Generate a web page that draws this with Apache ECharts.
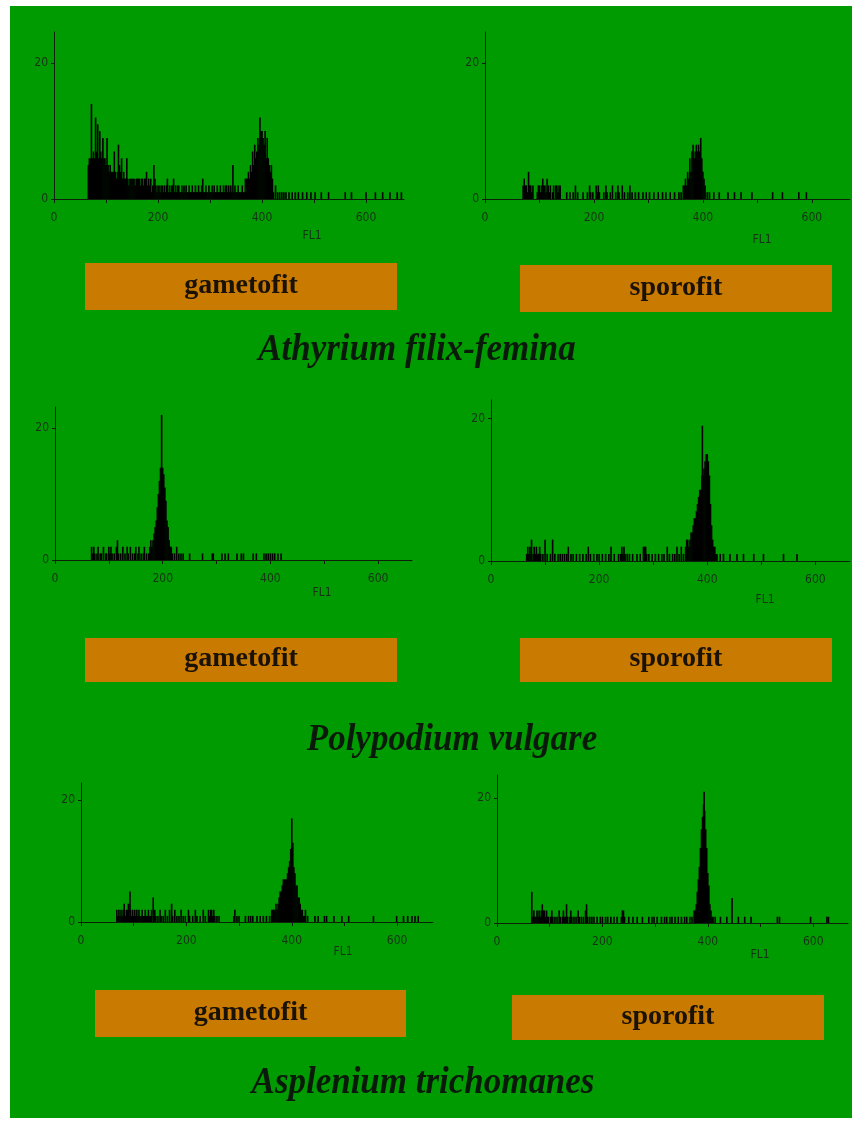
<!DOCTYPE html>
<html>
<head>
<meta charset="utf-8">
<style>
  html, body { margin: 0; padding: 0; background: #fff; }
  #chart { width: 859px; height: 1124px; }
</style>
<script src="https://cdn.jsdelivr.net/npm/echarts@6.0.0/dist/echarts.min.js"></script>
</head>
<body>
<div id="chart"></div>
<script>
// tick labels / names
var xTicks = [0, 200, 400, 600];
var xMinorTicks = [0, 100, 200, 300, 400, 500, 600];
var yTicks = [0, 20];
var stageNames = ['gametofit', 'sporofit'];
var speciesNames = ['Athyrium filix-femina', 'Polypodium vulgare', 'Asplenium trichomanes'];
var axisName = 'FL1';

// histograms: [FL1 channel, count]
var athyriumGameto = [
  [66,5],[68,6],[70,6],[72,14],[74,6],[76,7],[78,6],[80,12],[82,7],[84,11],[86,6],[88,10],[90,7],[92,6],[94,9],
  [96,6],[98,6],[100,5],[102,9],[104,5],[106,4],[108,5],[110,4],[112,4],[114,4],[116,7],[118,4],[120,3],[122,4],
  [124,8],[126,5],[128,4],[130,6],[132,3],[134,4],[136,3],[138,3],[140,6],[142,3],[144,2],[146,3],[148,3],[150,3],
  [152,3],[154,3],[156,2],[158,3],[160,3],[162,3],[164,3],[166,2],[168,3],[170,3],[172,2],[174,3],[176,3],[178,4],
  [180,2],[182,3],[184,2],[186,3],[188,1],[190,2],[192,5],[194,3],[196,2],[198,1],[200,2],[202,2],[204,1],[206,2],
  [208,2],[210,1],[212,2],[214,1],[216,2],[218,3],[220,1],[222,2],[224,1],[226,2],[228,2],[230,3],[232,1],[234,2],
  [236,1],[238,2],[240,2],[242,1],[244,1],[246,2],[248,1],[250,2],[252,1],[254,2],[256,1],[258,1],[260,2],[262,1],
  [264,1],[266,2],[268,1],[270,1],[272,2],[274,1],[276,1],[278,2],[280,1],[282,1],[284,2],[286,3],[288,1],[290,1],
  [292,2],[294,1],[296,1],[298,2],[300,1],[302,1],[304,2],[306,1],[308,2],[310,1],[312,1],[314,2],[316,1],[318,1],
  [320,2],[322,1],[324,1],[326,2],[328,1],[330,2],[332,2],[334,1],[336,2],[338,1],[340,2],[342,1],[344,5],[346,1],
  [348,2],[350,1],[352,1],[354,2],[356,1],[358,1],[360,1],[362,2],[364,1],[366,1],[368,3],[370,3],[372,3],[374,4],
  [376,3],[378,5],[380,4],[382,7],[384,5],[386,8],[388,6],[390,7],[392,9],[394,8],[396,12],[398,10],[400,10],
  [402,9],[404,8],[406,10],[408,6],[410,9],[412,6],[414,5],[416,4],[418,5],[420,3],[422,1],[426,2],[430,1],[434,1],
  [438,1],[442,1],[446,1],[452,1],[458,1],[464,1],[470,1],[478,1],[486,1],[494,1],[502,1],[514,1],[528,1],[560,1],
  [572,1],[600,1],[618,1],[632,1],[646,1],[660,1],[668,1]
];
var athyriumSporo = [
  [70,2],[72,3],[74,2],[76,2],[78,1],[80,4],[82,2],[84,2],[86,1],[88,2],[96,1],[98,2],[100,2],[102,1],[104,2],
  [106,3],[108,2],[110,2],[112,1],[114,3],[116,2],[118,1],[120,2],[124,1],[126,2],[130,2],[132,2],[134,1],[136,2],
  [138,2],[150,1],[156,1],[162,1],[166,2],[170,1],[180,1],[188,1],[192,2],[194,1],[198,1],[204,2],[206,1],[208,2],
  [210,1],[218,1],[222,2],[224,1],[230,1],[234,2],[240,1],[244,2],[246,1],[252,2],[256,1],[262,1],[266,2],[270,1],
  [276,1],[282,1],[290,1],[296,1],[302,1],[310,1],[318,1],[326,1],[332,1],[340,1],[348,1],[356,1],[360,1],[364,2],
  [366,2],[368,3],[370,2],[372,4],[374,3],[376,6],[378,4],[380,7],[382,8],[384,6],[386,7],[388,8],[390,7],[392,8],
  [394,7],[396,9],[398,6],[400,4],[402,3],[404,2],[408,1],[412,1],[420,1],[430,1],[446,1],[458,1],[470,1],[490,1],
  [528,1],[546,1],[576,1],[590,1]
];
var polypodiumGameto = [
  [68,2],[70,1],[72,2],[74,1],[78,1],[80,2],[84,1],[86,1],[90,2],[94,1],[96,1],[100,2],[102,1],[104,2],[106,1],
  [110,1],[114,2],[116,3],[118,1],[122,1],[126,2],[130,1],[134,2],[136,1],[140,2],[144,1],[148,1],[150,2],[154,1],
  [156,2],[160,1],[164,1],[166,2],[170,1],[174,1],[176,2],[178,3],[180,2],[182,3],[184,4],[186,5],[188,6],[190,8],
  [192,10],[194,12],[196,14],[198,22],[200,14],[202,13],[204,11],[206,9],[208,6],[210,5],[212,3],[214,2],[216,2],
  [218,1],[222,1],[226,2],[230,1],[234,1],[238,1],[250,1],[274,1],[292,1],[294,1],[310,1],[316,1],[322,1],[338,1],
  [346,1],[350,1],[368,1],[374,1],[388,1],[392,1],[396,1],[400,1],[404,1],[408,1],[414,1],[420,1]
];
var polypodiumSporo = [
  [66,1],[68,2],[70,1],[72,2],[74,1],[75,3],[78,1],[80,2],[82,1],[84,2],[86,1],[88,1],[90,2],[92,1],[96,1],[100,3],
  [104,1],[110,1],[114,3],[118,1],[124,1],[128,1],[132,1],[136,1],[140,1],[143,2],[148,1],[152,1],[158,1],[164,1],
  [170,1],[176,1],[180,2],[184,1],[190,1],[196,1],[200,1],[206,1],[212,1],[218,1],[222,2],[228,1],[236,1],[240,1],
  [242,2],[244,1],[246,2],[248,1],[252,1],[256,1],[262,1],[270,1],[276,1],[282,2],[284,2],[286,2],[288,1],[292,1],
  [298,1],[304,1],[310,1],[316,1],[320,1],[326,2],[330,1],[336,1],[340,1],[344,2],[348,1],[352,2],[356,1],[360,2],
  [362,3],[364,3],[366,2],[368,3],[370,4],[372,4],[374,5],[376,6],[378,6],[380,7],[382,8],[384,9],[386,10],[388,10],
  [390,12],[391,19],[392,12],[394,13],[396,14],[398,15],[400,15],[402,14],[404,12],[406,8],[408,5],[410,3],[412,2],
  [414,2],[416,1],[418,1],[424,1],[430,1],[442,1],[455,1],[467,1],[486,1],[504,1],[541,1],[566,1]
];
var aspleniumGameto = [
  [68,2],[70,1],[72,2],[74,1],[76,2],[78,1],[80,2],[82,3],[84,1],[86,2],[88,2],[90,3],[92,1],[93,5],[94,2],[96,1],
  [98,2],[100,1],[102,2],[104,1],[106,2],[108,1],[110,2],[112,1],[114,1],[116,2],[118,1],[120,1],[122,2],[124,1],
  [126,1],[128,2],[130,1],[132,1],[134,2],[137,4],[138,1],[140,2],[142,1],[146,1],[150,2],[152,1],[156,1],[160,2],
  [164,1],[168,2],[172,3],[174,1],[178,2],[182,1],[186,1],[190,2],[194,1],[198,1],[204,2],[206,1],[212,1],[217,2],
  [220,1],[226,1],[232,2],[236,1],[242,2],[244,1],[246,2],[248,2],[250,1],[252,2],[254,1],[258,1],[262,1],[290,1],
  [292,2],[296,1],[300,1],[312,1],[318,1],[322,1],[326,1],[334,1],[340,1],[346,1],[352,1],[358,1],[362,2],[364,2],
  [366,2],[368,2],[370,3],[372,2],[374,3],[376,4],[378,5],[380,5],[382,6],[384,7],[386,7],[388,7],[390,7],[392,8],
  [394,9],[396,10],[398,12],[400,17],[402,13],[404,9],[406,8],[408,6],[410,6],[412,4],[414,4],[416,3],[418,2],
  [420,2],[422,1],[424,1],[426,2],[430,1],[444,1],[450,1],[462,1],[466,1],[480,1],[495,1],[508,1],[555,1],[599,1],
  [612,1],[620,1],[628,1],[634,1],[640,1]
];
var aspleniumSporo = [
  [66,5],[68,1],[70,2],[72,1],[74,1],[76,2],[78,1],[80,2],[82,1],[84,2],[86,3],[88,2],[90,2],[92,1],[94,2],[96,1],
  [98,1],[102,1],[104,2],[106,1],[110,1],[114,1],[118,2],[120,1],[124,1],[126,2],[128,1],[130,1],[132,3],[134,1],
  [138,1],[140,2],[142,1],[146,1],[150,1],[154,2],[156,1],[160,1],[164,1],[168,2],[170,3],[172,1],[176,1],[180,1],
  [184,1],[190,1],[196,1],[200,1],[206,1],[210,1],[216,1],[222,1],[228,1],[236,1],[238,2],[240,2],[242,1],[250,1],
  [258,1],[266,1],[276,1],[288,1],[294,1],[298,1],[304,1],[312,1],[318,1],[322,1],[328,1],[332,1],[338,1],[344,1],
  [350,1],[356,1],[360,1],[366,1],[370,1],[374,2],[376,2],[378,3],[380,5],[382,7],[384,9],[386,12],[388,15],
  [390,17],[392,19],[393,21],[394,18],[396,15],[398,12],[400,8],[402,6],[404,3],[406,2],[408,1],[410,1],[414,1],
  [424,1],[436,1],[446,4],[458,1],[470,1],[482,1],[532,1],[536,1],[595,1],[626,1],[629,1]
];

var histograms = [athyriumGameto, athyriumSporo, polypodiumGameto, polypodiumSporo, aspleniumGameto, aspleniumSporo];

// panel layout (pixels) and axis extents
var panels = [
  {left: 54, top: 32, width: 350, height: 167, xMax: 673, yMax: 24.6, fl: [312, 236]},
  {left: 485, top: 32, width: 365, height: 167, xMax: 670, yMax: 24.6, fl: [762, 240]},
  {left: 55, top: 407, width: 357, height: 153, xMax: 663, yMax: 23.2, fl: [322, 593]},
  {left: 491, top: 400, width: 359, height: 161, xMax: 664, yMax: 22.6, fl: [765, 600]},
  {left: 81, top: 783, width: 352, height: 139, xMax: 668, yMax: 22.8, fl: [343, 952]},
  {left: 497, top: 775, width: 351, height: 148, xMax: 666, yMax: 23.7, fl: [760, 955]}
];
var boxes = [
  [85, 263, 312, 47], [520, 265, 312, 47],
  [85, 638, 312, 44], [520, 638, 312, 44],
  [95, 990, 311, 47], [512, 995, 312, 45]
];
var titlePos = [[417, 350], [452, 740], [423, 1083]];

var axisColor = '#0c200c';
var labelColor = '#173317';
var labelFont = '"Liberation Sans Narrow", "DejaVu Sans Condensed", "Liberation Sans", sans-serif';

var grid = [], xAxis = [], yAxis = [], series = [];
var graphic = [{
  type: 'rect', z: -100, silent: true,
  shape: {x: 10, y: 6, width: 842, height: 1112},
  style: {fill: '#009b00'}
}];

panels.forEach(function (p, i) {
  grid.push({left: p.left, top: p.top, width: p.width, height: p.height});
  xAxis.push({
    type: 'value', gridIndex: i, min: 0, max: p.xMax,
    splitLine: {show: false},
    axisLine: {lineStyle: {color: axisColor, width: 1}},
    axisTick: {customValues: xMinorTicks, length: 4, lineStyle: {color: axisColor}},
    axisLabel: {customValues: xTicks, margin: 13, color: labelColor, fontSize: 12, fontFamily: labelFont}
  });
  yAxis.push({
    type: 'value', gridIndex: i, min: 0, max: p.yMax,
    splitLine: {show: false},
    axisLine: {show: true, lineStyle: {color: axisColor, width: 1}},
    axisTick: {show: true, customValues: yTicks, length: 3, lineStyle: {color: axisColor}},
    axisLabel: {customValues: yTicks, margin: 6, color: labelColor, fontSize: 12, fontFamily: labelFont}
  });
  series.push({
    type: 'bar', xAxisIndex: i, yAxisIndex: i,
    barWidth: 1.6,
    itemStyle: {color: '#000'},
    data: histograms[i]
  });
  graphic.push({
    type: 'text', x: p.fl[0], y: p.fl[1],
    style: {text: axisName, fill: labelColor, font: '12px ' + labelFont,
            textAlign: 'center', textVerticalAlign: 'middle', align: 'center', verticalAlign: 'middle'}
  });
});

boxes.forEach(function (b, i) {
  graphic.push({
    type: 'rect', shape: {x: b[0], y: b[1], width: b[2], height: b[3]},
    style: {fill: '#c97a00'}
  });
  graphic.push({
    type: 'text', x: b[0] + b[2] / 2, y: b[1] + b[3] / 2 - 1,
    style: {text: stageNames[i % 2], fill: '#1a1206', font: 'bold 28px "Liberation Serif", serif',
            textAlign: 'center', textVerticalAlign: 'middle', align: 'center', verticalAlign: 'middle'}
  });
});

speciesNames.forEach(function (name, i) {
  graphic.push({
    type: 'text', x: titlePos[i][0], y: titlePos[i][1], scaleX: 0.92,
    style: {text: name, fill: '#0a1a0a', font: 'italic bold 38px "Liberation Serif", serif',
            textAlign: 'center', textVerticalAlign: 'middle', align: 'center', verticalAlign: 'middle'}
  });
});

var myChart = echarts.init(document.getElementById('chart'));
myChart.setOption({
  backgroundColor: '#ffffff',
  animation: false,
  grid: grid,
  xAxis: xAxis,
  yAxis: yAxis,
  series: series,
  graphic: graphic
});
</script>
</body>
</html>
